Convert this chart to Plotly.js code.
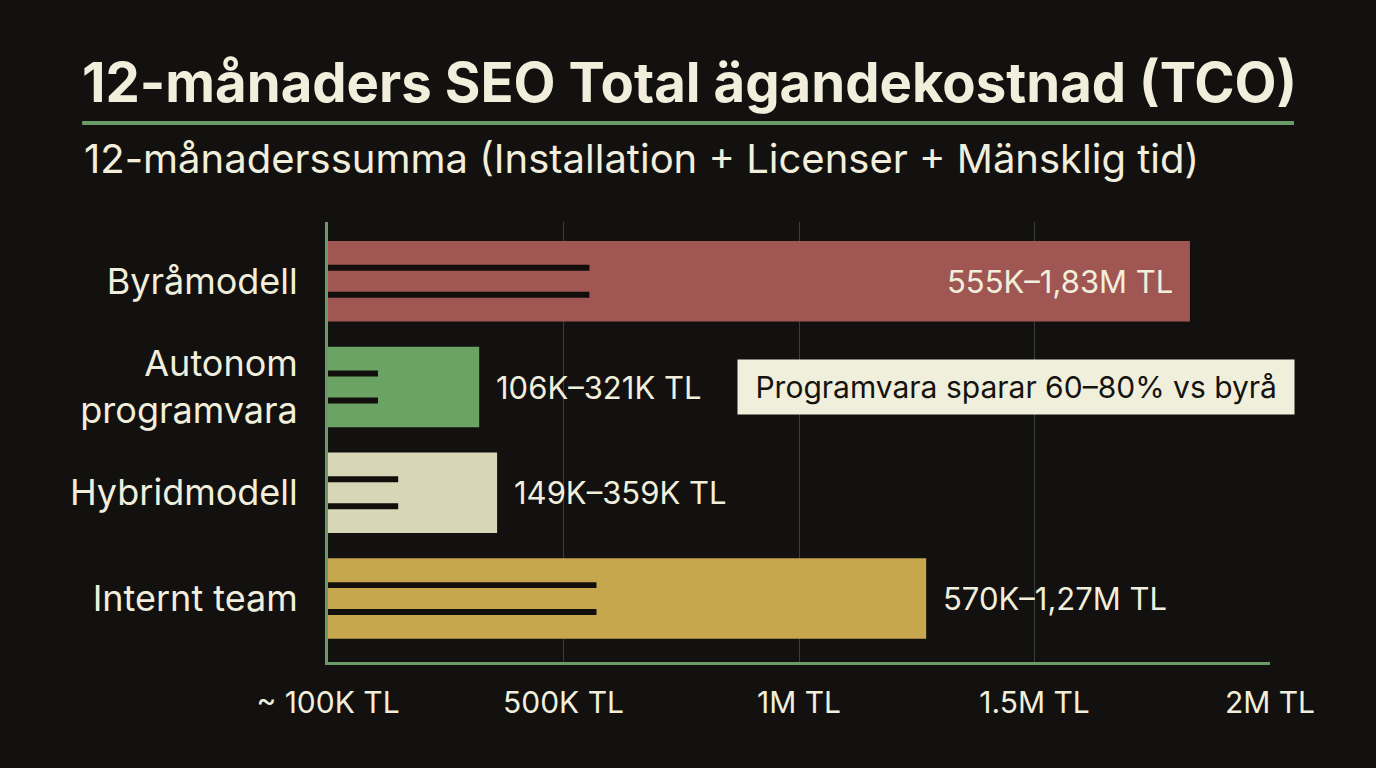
<!DOCTYPE html>
<html>
<head>
<meta charset="utf-8">
<script src="https://cdn.plot.ly/plotly-3.0.1.min.js"></script>
<style>
  html, body { margin: 0; padding: 0; background: #121110; }
  #chart { width: 1376px; height: 768px; }
</style>
</head>
<body>
<div id="chart"></div>
<script>
var models = ['Byråmodell', 'Autonom<br>programvara', 'Hybridmodell', 'Internt team'];
var low_cost = [555000, 106000, 149000, 570000];
var high_cost = [1830000, 321000, 359000, 1270000];
var range_labels = ['555K–1,83M TL', '106K–321K TL', '149K–359K TL', '570K–1,27M TL'];
var bar_colors = ['#a05753', '#6aa364', '#d7d6b6', '#c6a74d'];
var tick_vals = [0, 500000, 1000000, 1500000, 2000000];
var tick_text = ['~ 100K TL', '500K TL', '1M TL', '1.5M TL', '2M TL'];
var callout = 'Programvara sparar 60–80% vs byrå';

var cream = '#f1efdc';
var green = '#6a9a68';
var pos = models.map((m, i) => i);

var bars = {
  type: 'bar', orientation: 'h',
  x: high_cost, y: pos, width: 0.76,
  marker: {color: bar_colors, line: {width: 0}},
  hoverinfo: 'skip'
};
// the two dark strokes inside each bar mark the low end of the range
var low1 = {
  type: 'bar', orientation: 'h',
  x: low_cost, y: pos, width: 0.055, offset: -0.155,
  marker: {color: '#120e0c'}, hoverinfo: 'skip'
};
var low2 = {
  type: 'bar', orientation: 'h',
  x: low_cost, y: pos, width: 0.055, offset: 0.1,
  marker: {color: '#120e0c'}, hoverinfo: 'skip'
};

var notes = range_labels.map(function(t, i) {
  var inside = i == 0;
  return {
    x: high_cost[i], y: pos[i], xref: 'x', yref: 'y',
    text: t, showarrow: false,
    xanchor: inside ? 'right' : 'left',
    xshift: inside ? -15 : 15,
    font: {family: 'Inter, sans-serif', size: 31, color: cream}
  };
});
notes.push({
  x: 1460000, y: 1, xref: 'x', yref: 'y',
  text: '&nbsp;' + callout + '&nbsp;', showarrow: false,
  bgcolor: '#f0efdc', borderpad: 9,
  font: {family: 'Inter, sans-serif', size: 30, color: '#15130f'}
});
notes.push({
  x: -0.261, y: 1.145, xref: 'paper', yref: 'paper',
  xanchor: 'left', yanchor: 'middle',
  text: '12-månaderssumma (Installation + Licenser + Mänsklig tid)',
  showarrow: false,
  font: {family: 'Inter, sans-serif', size: 40, color: cream}
});

var layout = {
  width: 1376, height: 768,
  paper_bgcolor: '#121110', plot_bgcolor: '#121110',
  margin: {l: 328, r: 106, t: 222, b: 106},
  barmode: 'overlay', showlegend: false,
  title: {
    text: '<b>12-månaders SEO Total ägandekostnad (TCO)</b>',
    xref: 'container', yref: 'container',
    x: 0.0596, xanchor: 'left', y: 0.892, yanchor: 'middle',
    font: {family: 'Inter, sans-serif', size: 54.5, color: cream}
  },
  xaxis: {
    range: [0, 2000000], tickvals: tick_vals, ticktext: tick_text,
    showgrid: true, gridcolor: '#3b3d37', gridwidth: 1,
    zeroline: false, showline: true, linecolor: green, linewidth: 3,
    ticks: '', ticklabelstandoff: 12,
    tickfont: {family: 'Inter, sans-serif', size: 30, color: cream}
  },
  yaxis: {
    range: [3.6, -0.56], tickvals: pos, ticktext: models,
    showgrid: false, zeroline: false,
    showline: true, linecolor: green, linewidth: 3,
    ticks: '', ticklabelstandoff: 20,
    tickfont: {family: 'Inter, sans-serif', size: 36, color: cream}
  },
  shapes: [{
    type: 'line', xref: 'paper', yref: 'paper',
    x0: -0.261, x1: 1.0255, y0: 1.225, y1: 1.225,
    line: {color: green, width: 4}
  }],
  annotations: notes
};

Plotly.newPlot('chart', [bars, low1, low2], layout, {staticPlot: true});
</script>
</body>
</html>
